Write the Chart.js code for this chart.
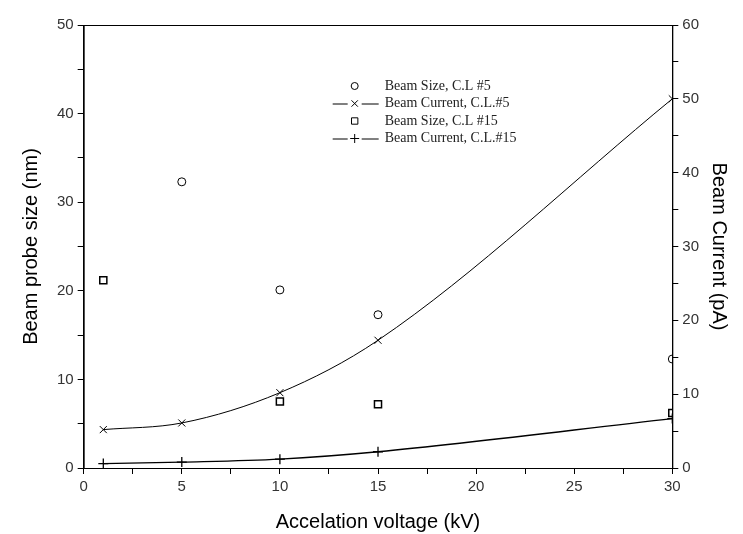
<!DOCTYPE html>
<html>
<head>
<meta charset="utf-8">
<script src="https://cdn.jsdelivr.net/npm/chart.js@4"></script>
<style>
  html, body { margin: 0; padding: 0; background: #fff; }
  #wrap { width: 743px; height: 534px; }
</style>
</head>
<body>
<div id="wrap"><canvas id="myChart" width="743" height="534"></canvas></div>
<script>
// data
const voltages = [1, 5, 10, 15, 30];
const sizeCL5 = [null, 32.3, 20.1, 17.3, 12.3];      // nm, left axis
const currentCL5 = [5.2, 6.1, 10.2, 17.3, 50];      // pA, right axis
const sizeCL15 = [21.2, null, 7.5, 7.2, 6.2];       // nm, left axis
const currentCL15 = [0.6, 0.8, 1.2, 2.2, 6.7];      // pA, right axis
const seriesLabels = ['Beam Size, C.L #5', 'Beam Current, C.L.#5', 'Beam Size, C.L #15', 'Beam Current, C.L.#15'];

const toPoints = vals => voltages.map((v, i) => ({ x: v, y: vals[i] })).filter(p => p.y !== null);

const tickFont = { family: "'Liberation Sans Narrow', 'Liberation Sans', sans-serif", size: 15 };
const titleFont = { family: "'Liberation Sans', Arial, sans-serif", size: 20 };

// frame around the plot area
const frame = {
  id: 'frame',
  afterDraw(chart) {
    const { ctx, chartArea: a } = chart;
    ctx.save();
    ctx.strokeStyle = '#000';
    ctx.lineWidth = 1;
    ctx.strokeRect(a.left + 0.5, a.top + 0.5, a.right - a.left, a.bottom - a.top);
    ctx.restore();
  }
};

// legend drawn inside the plot, like the original
const innerLegend = {
  id: 'innerLegend',
  afterDraw(chart) {
    const { ctx, chartArea: a } = chart;
    const x0 = a.left + 271, y0 = a.top + 61, gap = 17.5;
    ctx.save();
    ctx.font = "14px 'Liberation Serif', 'Times New Roman', serif";
    ctx.strokeStyle = '#000';
    ctx.lineWidth = 1;
    ctx.textBaseline = 'middle';
    chart.data.datasets.forEach((ds, i) => {
      const y = y0 + i * gap;
      if (ds.showLine) {
        ctx.beginPath();
        ctx.moveTo(x0 - 22, y + 0.5);
        ctx.lineTo(x0 - 7, y + 0.5);
        ctx.moveTo(x0 + 7, y + 0.5);
        ctx.lineTo(x0 + 24, y + 0.5);
        ctx.stroke();
      }
      ctx.fillStyle = '#fff';
      Chart.helpers.drawPoint(ctx, {
        pointStyle: ds.pointStyle, radius: ds.pointRadius - 0.5, borderWidth: 1, rotation: 0
      }, x0, y);
      ctx.fillStyle = '#222';
      ctx.fillText(ds.label, x0 + 30, y);
    });
    ctx.restore();
  }
};

new Chart(document.getElementById('myChart'), {
  type: 'scatter',
  data: {
    datasets: [
      {
        label: seriesLabels[0],
        data: toPoints(sizeCL5),
        yAxisID: 'y',
        pointStyle: 'circle',
        pointRadius: 4,
        borderColor: '#000',
        backgroundColor: 'rgba(255,255,255,0)',
        borderWidth: 1,
        showLine: false
      },
      {
        label: seriesLabels[1],
        data: toPoints(currentCL5),
        yAxisID: 'y1',
        pointStyle: 'crossRot',
        pointRadius: 5,
        borderColor: '#000',
        backgroundColor: '#000',
        borderWidth: 1,
        showLine: true,
        cubicInterpolationMode: 'monotone'
      },
      {
        label: seriesLabels[2],
        data: toPoints(sizeCL15),
        yAxisID: 'y',
        pointStyle: 'rect',
        pointRadius: 5,
        borderColor: '#000',
        backgroundColor: 'rgba(255,255,255,0)',
        borderWidth: 1.5,
        showLine: false
      },
      {
        label: seriesLabels[3],
        data: toPoints(currentCL15),
        yAxisID: 'y1',
        pointStyle: 'cross',
        pointRadius: 5,
        borderColor: '#000',
        backgroundColor: '#000',
        borderWidth: 1.3,
        showLine: true,
        cubicInterpolationMode: 'monotone'
      }
    ]
  },
  options: {
    responsive: false,
    animation: false,
    layout: { padding: { left: 15, right: 2, top: 25, bottom: 0 } },
    plugins: {
      legend: { display: false },
      tooltip: { enabled: false }
    },
    scales: {
      x: {
        type: 'linear',
        min: 0,
        max: 30,
        grid: { drawOnChartArea: false, tickLength: 6, color: '#000' },
        border: { color: '#000' },
        ticks: {
          stepSize: 2.5,
          color: '#333',
          font: tickFont,
          padding: 4,
          maxRotation: 0,
          autoSkip: false,
          callback: v => v % 5 === 0 ? v : ''
        },
        title: { display: true, text: 'Accelation voltage (kV)', color: '#000', font: titleFont, padding: { top: 10, bottom: 0 } }
      },
      y: {
        position: 'left',
        min: 0,
        max: 50,
        grid: { drawOnChartArea: false, tickLength: 6, color: '#000' },
        border: { color: '#000' },
        ticks: {
          stepSize: 5,
          color: '#333',
          font: tickFont,
          padding: 4,
          autoSkip: false,
          callback: v => v % 10 === 0 ? v : ''
        },
        title: { display: true, text: 'Beam probe size (nm)', color: '#000', font: titleFont, padding: { bottom: 10 } }
      },
      y1: {
        position: 'right',
        min: 0,
        max: 60,
        grid: { drawOnChartArea: false, tickLength: 6, color: '#000' },
        border: { color: '#000' },
        ticks: {
          stepSize: 5,
          color: '#333',
          font: tickFont,
          padding: 4,
          autoSkip: false,
          callback: v => v % 10 === 0 ? v : ''
        },
        title: { display: true, text: 'Beam Current (pA)', color: '#000', font: titleFont, padding: { top: 10 } }
      }
    }
  },
  plugins: [frame, innerLegend]
});
</script>
</body>
</html>
